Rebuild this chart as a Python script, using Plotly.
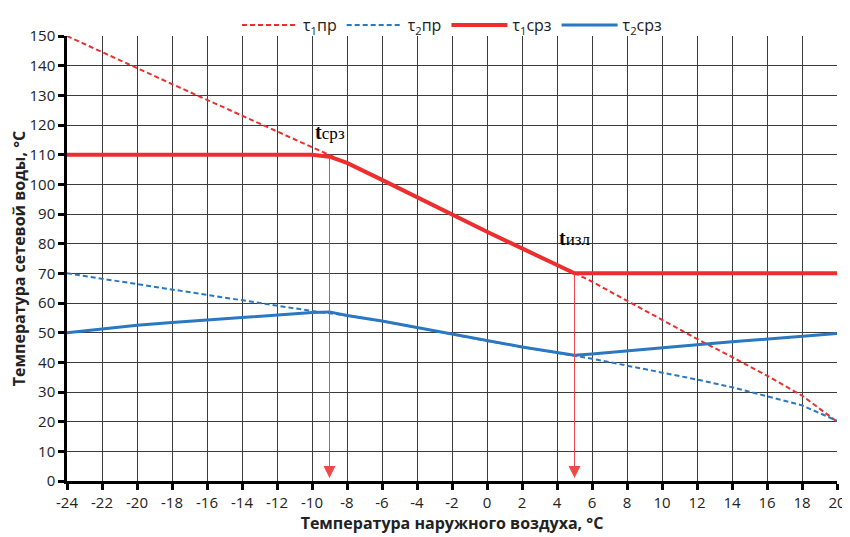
import plotly.graph_objects as go

# ---- data ----
x_pr = [-24, -22, -20, -18, -16, -14, -12, -10, -8, -6, -4, -2, 0, 2, 4, 6, 8, 10, 12, 14, 16, 18, 20]
tau1_pr = [150, 144.7, 139.2, 133.8, 128.5, 123.3, 118.0, 112.6, 107.2, 101.5, 95.6, 89.7, 84.0, 78.4, 73.0,
           67.2, 60.8, 54.3, 47.9, 41.8, 35.5, 28.8, 20.0]
tau2_pr = [70, 68.2, 66.3, 64.6, 62.8, 61.0, 59.0, 57.3, 55.8, 53.9, 51.7, 49.4, 47.2, 45.2, 43.3,
           41.2, 38.9, 36.6, 34.2, 31.6, 28.6, 25.5, 20.3]

x_srz1 = [-24, -10, -9, -8, -6, -4, -2, 0, 2, 4, 5, 20]
tau1_srz = [110, 110, 109.3, 107.2, 101.5, 95.6, 89.7, 84.0, 78.4, 73.0, 70, 70]

x_srz2 = [-24, -22, -20, -18, -16, -14, -12, -10, -9, -8, -6, -4, -2, 0, 2, 4, 5, 6, 8, 10, 12, 14, 16, 18, 20]
tau2_srz = [50, 51.3, 52.5, 53.4, 54.3, 55.1, 56.0, 56.8, 57.0, 55.8, 53.9, 51.7, 49.4, 47.2, 45.2, 43.3, 42.4,
            42.8, 43.9, 45.0, 45.9, 46.9, 47.8, 48.7, 49.7]

t_srz, t_srz_val = -9, 109.3
t_izl, t_izl_val = 5, 70

x_ticks = list(range(-24, 21, 2))
y_ticks = list(range(0, 151, 10))

RED = "#EE2E2E"
BLUE = "#2A78C2"
FONT = "Open Sans, Lato, sans-serif"

fig = go.Figure()
fig.add_trace(go.Scatter(x=x_pr, y=tau1_pr, mode="lines", name="τ<sub>1</sub>пр",
                         line=dict(color=RED, width=2, dash="5px,3px")))
fig.add_trace(go.Scatter(x=x_pr, y=tau2_pr, mode="lines", name="τ<sub>2</sub>пр",
                         line=dict(color=BLUE, width=2, dash="5px,3px")))
fig.add_trace(go.Scatter(x=x_srz1, y=tau1_srz, mode="lines", name="τ<sub>1</sub>срз",
                         line=dict(color=RED, width=4)))
fig.add_trace(go.Scatter(x=x_srz2, y=tau2_srz, mode="lines", name="τ<sub>2</sub>срз",
                         line=dict(color=BLUE, width=3)))

# vertical arrows
for xv, yv in [(t_srz, t_srz_val), (t_izl, t_izl_val)]:
    fig.add_annotation(x=xv, y=1.0, ax=xv, ay=yv, xref="x", yref="y", axref="x", ayref="y",
                       text="", showarrow=True, arrowhead=2, arrowsize=2.4, arrowwidth=1,
                       arrowcolor="#F04848")

fig.add_annotation(x=t_srz, y=117.5, xref="x", yref="y", showarrow=False,
                   text="<b><span style='font-size:20px'>t</span></b>срз",
                   font=dict(family="Liberation Serif, Times New Roman, serif", size=17, color="black"))
fig.add_annotation(x=t_izl, y=82, xref="x", yref="y", showarrow=False,
                   text="<b><span style='font-size:20px'>t</span></b>изл",
                   font=dict(family="Liberation Serif, Times New Roman, serif", size=17, color="black"))

fig.update_layout(
    width=842, height=529,
    margin=dict(l=59, r=13, t=28, b=56, autoexpand=False),
    plot_bgcolor="white", paper_bgcolor="white",
    font=dict(family=FONT, size=15, color="#222222"),
    showlegend=True,
    legend=dict(orientation="h", x=0.5, xanchor="center", yref="container", y=1.0, yanchor="top",
                font=dict(size=16), itemwidth=56, bgcolor="rgba(0,0,0,0)"),
    xaxis=dict(range=[-24, 20], tickvals=x_ticks, ticktext=[str(v) for v in x_ticks],
               showgrid=True, gridcolor="#3C3C3C", gridwidth=1,
               showline=True, linecolor="black", linewidth=2.5,
               ticks="outside", ticklen=6, tickwidth=2.5, tickcolor="black",
               zeroline=False, mirror=False, tickfont=dict(size=15),
               title=dict(text="<b>Температура наружного воздуха, °С</b>", font=dict(size=16), standoff=6)),
    yaxis=dict(range=[0, 150], tickvals=y_ticks, ticktext=[str(v) for v in y_ticks],
               showgrid=True, gridcolor="#3C3C3C", gridwidth=1,
               showline=True, linecolor="black", linewidth=2.5,
               ticks="outside", ticklen=6, tickwidth=2.5, tickcolor="black",
               zeroline=False, tickfont=dict(size=15),
               title=dict(text="<b>Температура сетевой воды, °С</b>", font=dict(size=16), standoff=7)),
)

fig.write_html("out.html")
